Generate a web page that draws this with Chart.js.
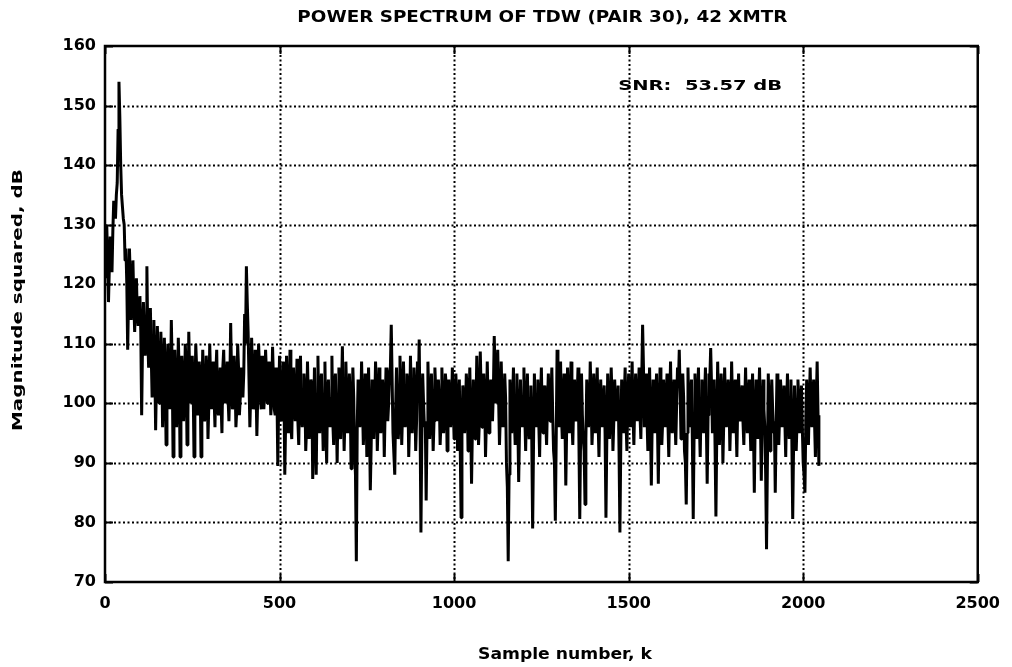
<!DOCTYPE html>
<html><head><meta charset="utf-8">
<script src="https://cdn.jsdelivr.net/npm/chart.js@4"></script>
<style>html,body{margin:0;padding:0;background:#fff;} #wrap{width:1012px;height:667px;}</style>
</head><body><div id="wrap"><canvas id="c" width="1012" height="667"></canvas></div>
<script>
const titleText = 'POWER SPECTRUM OF TDW (PAIR 30), 42 XMTR';
const xAxisTitle = 'Sample number, k';
const yAxisTitle = 'Magnitude squared, dB';
const snrLabel = 'SNR:  53.57 dB';
const snrAnchor = [1470, 153.2];
const xTickValues = [0, 500, 1000, 1500, 2000, 2500];
const yTickValues = [70, 80, 90, 100, 110, 120, 130, 140, 150, 160];
const sampleStep = 5;
// samples at k = 0, 5, 10, ...
const magnitudeDb = [
125,130,117,128,122,134,131,137,154,140,133,130,126,109,126,114,124,112,121,113,
118,98,117,108,123,106,116,101,114,95.5,113,100,112,96,111,93,110,99,114,91,
109,96,111,91,108,97,110,93,112,100,108,91,110,98,107,91,109,97,108,94,
110,99,107,96,109,98,106,95,109,100,107,97,113.5,99,108,96,110,98,106,101,
115,123,112,96,111,99,109,94.5,110,101,108,99,109,100,107,98,109.5,99,106,89.5,
108,97,107,88,108,95,109,94,106,97,107.5,93,108,96,105,92,107,94,104,87.3,
106,88,108,95,105,92,107,90,104,96,108,93,105,90,106,94,109.6,92,107,95,
105,89,106,92,73.5,104,96,107,93,105,91,106,85.4,104,94,107,92,106,95,104,
91,106,97,105,113.2,95,88,106,94,108,93,107,96,105,91,108,95,106,92,107,
110.7,78.3,105,96,83.7,107,94,105,92,106,97,104,93,106,95,105,92,104,96,106,
94,105,92,104,80.8,103,95,105,92,106,86.5,104,94,108,93,108.7,96,105,91,107,
95,104,97,111.3,100,109,93,107,96,105,90,73.5,104,95,106,93,105,86.8,104,96,
106,92,105,94,103,79,105,96,104,91,106,95,103,93,105,97,106,92,80.3,109,
96,107,94,105,86.2,106,95,107,93,104,97,106,80.6,105,94,83,104,96,107,93,
105,95,106,91,104,96,103,80.8,105,94,106,92,104,97,103,78.3,104,95,106,92,
105,96,107,93,105,97,106,94,113.2,96,105,92,106,86.2,104,95,105,86.5,106,93,
104,96,105,91,107,95,104,93,106,109,94,105,92,83,106,96,104,80.6,105,94,
106,91,104,95,106,86.5,105,109.3,95,104,81,107,93,105,90,106,96,104,92,107,
95,104,91,105,97,103,93,106,95,104,92,105,85,104,94,106,87,104,96,75.5,
105,92,104,95,85,105,93,104,96,103,91,105,94,104,80.6,103,92,104,95,103,
90,85,104,93,106,96,104,91,107,89.5
];
// in-between samples at k = 2.5, 7.5, 12.5, ...
const magnitudeDbMid = [
121,124,123,126,129,133,135,146,148,135,131,124,120,118,121,119,117,118,115,116,
112,110,113,112,111,110,108,106,107,104,106,103,107,102,105,101,104,102,106,100,
103,100,105,99,104,101,106,98,105,102,103,100,106,99,104,101,103,98,105,100,
104,102,101,105,99,103,100,106,102,104,101,103,105,100,104,99,106,101,103,105,
110,117,104,102,105,100,103,101,106,99,104,102,105,100,103,101,104,98,102,100,
101,98,103,97,100,102,96,104,99,101,97,103,98,100,102,96,101,99,103,95,
98,101,97,103,99,100,96,102,98,101,97,103,99,100,96,102,100,98,101,97,
100,97,101,88,96,102,99,100,97,101,98,97,93,101,99,102,97,100,98,101,
99,101,100,106,104,95,99,101,97,102,99,100,98,103,97,101,99,102,97,101,
97,94,100,97,96,101,98,100,97,102,99,101,97,100,98,103,96,101,99,100,
98,101,97,93,95,101,98,102,99,97,96,100,98,101,97,102,99,101,97,100,
99,101,102,105,103,101,98,100,97,101,86,88,99,100,98,101,97,96,99,101,
98,100,97,101,94,93,99,101,97,100,98,102,97,100,99,101,98,90,94,102,
100,98,101,97,96,99,101,97,100,98,101,94,95,98,92,94,100,98,101,97,
99,101,97,100,98,101,95,94,100,98,101,97,100,99,92,93,99,101,97,100,
99,101,98,100,99,101,98,104,106,101,98,100,97,97,99,101,97,98,100,97,
99,101,97,100,98,101,98,100,103,102,99,101,90,95,99,101,94,95,99,101,
97,100,98,101,97,98,104,103,100,93,95,100,98,101,97,100,99,101,98,100,
99,97,100,98,101,97,100,98,101,97,100,96,97,99,101,97,98,99,88,90,
98,100,99,97,96,100,98,101,99,97,100,98,101,94,93,99,97,100,98,96,
88,97,98,100,99,101,97,100,98
];

const FONT = '"DejaVu Sans", "Liberation Sans", sans-serif';

function buildPoints() {
  const pts = [];
  magnitudeDb.forEach((v, i) => {
    pts.push({x: i * sampleStep, y: v});
    if (i < magnitudeDbMid.length) pts.push({x: i * sampleStep + sampleStep / 2, y: magnitudeDbMid[i]});
  });
  return pts;
}

function drawFitted(ctx, text, cx, cy, targetW, size) {
  ctx.save();
  ctx.font = 'bold ' + size + 'px ' + FONT;
  const w = ctx.measureText(text).width;
  ctx.translate(cx, cy);
  ctx.scale(targetW / w, 1);
  ctx.textAlign = 'center';
  ctx.textBaseline = 'middle';
  ctx.fillStyle = '#000';
  ctx.fillText(text, 0, 0);
  ctx.restore();
}

const framePlugin = {
  id: 'frame',
  beforeDatasetsDraw(chart) {
    const {ctx, chartArea: a, scales: {x, y}} = chart;
    ctx.save();
    ctx.strokeStyle = '#000';
    ctx.lineWidth = 2;
    ctx.setLineDash([2, 2.5]);
    yTickValues.forEach(v => {
      if (v === 70 || v === 160) return;
      const py = Math.round(y.getPixelForValue(v)) + 0.5;
      ctx.beginPath(); ctx.moveTo(a.left, py); ctx.lineTo(a.right, py); ctx.stroke();
    });
    xTickValues.forEach(v => {
      if (v === 0 || v === 2500) return;
      const px = Math.round(x.getPixelForValue(v)) + 0.5;
      ctx.beginPath(); ctx.moveTo(px, a.top); ctx.lineTo(px, a.bottom); ctx.stroke();
    });
    ctx.setLineDash([]);
    ctx.lineWidth = 2;
    const tl = 8;
    yTickValues.forEach(v => {
      const py = Math.round(y.getPixelForValue(v)) + 0.5;
      ctx.beginPath(); ctx.moveTo(a.left, py); ctx.lineTo(a.left + tl, py);
      ctx.moveTo(a.right, py); ctx.lineTo(a.right - tl, py); ctx.stroke();
    });
    xTickValues.forEach(v => {
      const px = Math.round(x.getPixelForValue(v)) + 0.5;
      ctx.beginPath(); ctx.moveTo(px, a.bottom); ctx.lineTo(px, a.bottom - tl);
      ctx.moveTo(px, a.top); ctx.lineTo(px, a.top + tl); ctx.stroke();
    });
    ctx.restore();
  },
  afterDatasetsDraw(chart) {
    const {ctx, chartArea: a, scales: {x, y}} = chart;
    ctx.save();
    ctx.strokeStyle = '#000';
    ctx.lineWidth = 2.5;
    ctx.strokeRect(a.left, a.top, a.right - a.left, a.bottom - a.top);
    ctx.restore();
    drawFitted(ctx, titleText, (a.left + a.right) / 2 + 1, 18, 490, 15);
    drawFitted(ctx, xAxisTitle, 565, 655, 174, 15);
    ctx.save();
    ctx.translate(18, 300);
    ctx.rotate(-Math.PI / 2);
    drawFitted(ctx, yAxisTitle, 0, 0, 262, 14);
    ctx.restore();
    const sx = x.getPixelForValue(snrAnchor[0]);
    const sy = y.getPixelForValue(snrAnchor[1]);
    drawFitted(ctx, snrLabel, sx + 82, sy, 164, 14);
  }
};

new Chart(document.getElementById('c'), {
  type: 'line',
  data: {
    datasets: [{
      data: buildPoints(),
      borderColor: '#000',
      borderWidth: 3,
      borderJoinStyle: 'bevel',
      pointRadius: 0,
      tension: 0,
      fill: false
    }]
  },
  options: {
    responsive: false,
    animation: false,
    devicePixelRatio: 1,
    layout: {padding: {top: 46, right: 29, left: 0, bottom: 0}},
    plugins: {legend: {display: false}, title: {display: false}, tooltip: {enabled: false}},
    scales: {
      x: {
        type: 'linear', min: 0, max: 2500,
        afterBuildTicks: s => { s.ticks = xTickValues.map(v => ({value: v})); },
        afterFit: s => { s.height = 85; },
        grid: {display: false, drawTicks: false},
        border: {display: false},
        ticks: {color: '#000', font: {family: FONT, size: 16, weight: 'bold'}, padding: 12, maxRotation: 0, autoSkip: false,
                callback: v => String(v)}
      },
      y: {
        type: 'linear', min: 70, max: 160,
        afterBuildTicks: s => { s.ticks = yTickValues.map(v => ({value: v})); },
        afterFit: s => { s.width = 105; },
        grid: {display: false, drawTicks: false},
        border: {display: false},
        ticks: {color: '#000', font: {family: FONT, size: 16, weight: 'bold'}, padding: 9, autoSkip: false,
                callback: v => String(v)}
      }
    }
  },
  plugins: [framePlugin]
});
</script>
</body></html>
